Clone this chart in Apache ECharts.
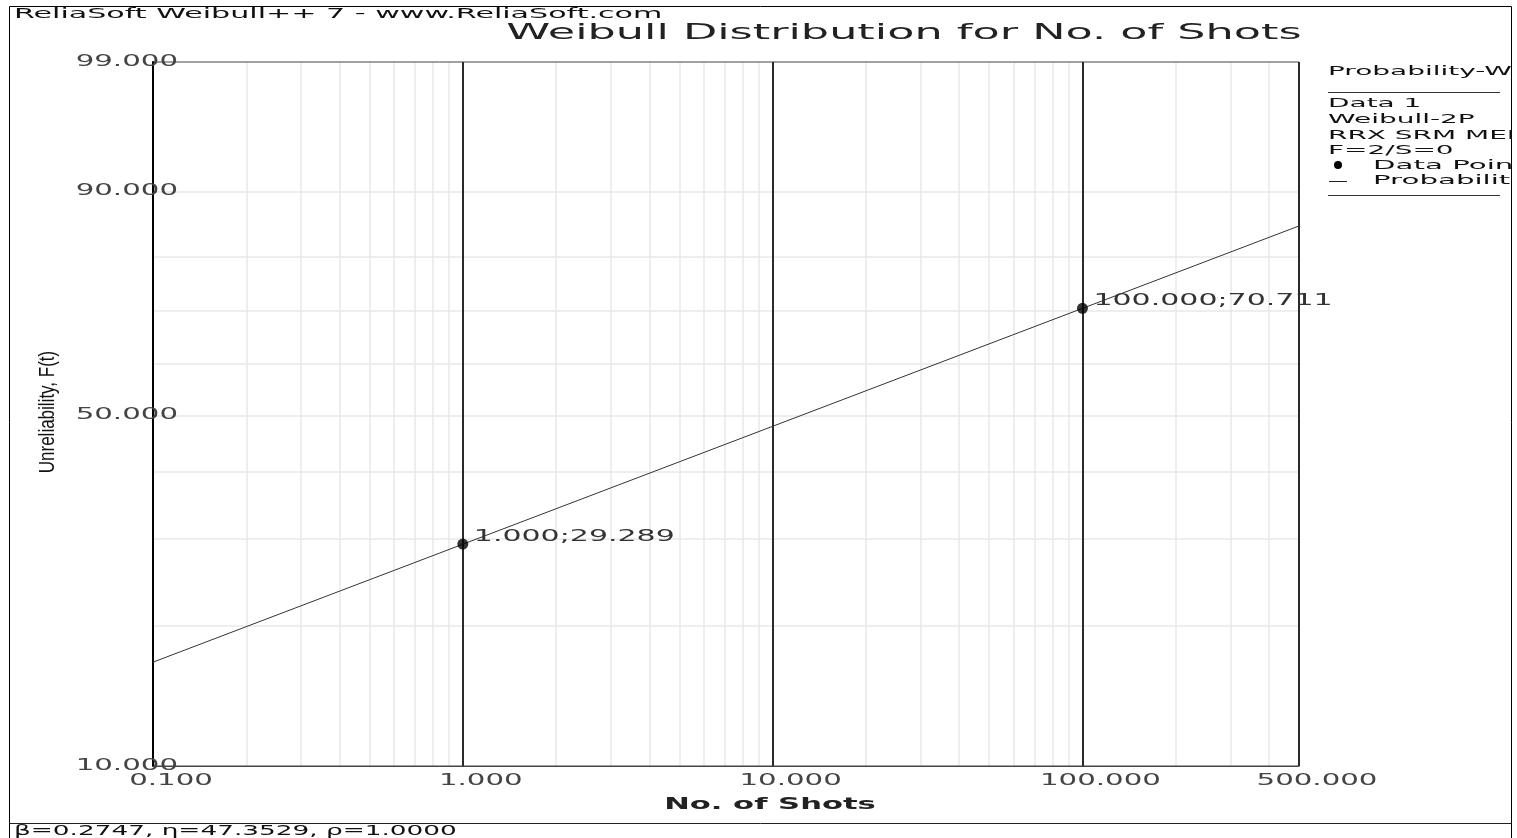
<!DOCTYPE html>
<html>
<head>
<meta charset="utf-8">
<title>Weibull Distribution for No. of Shots</title>
<script src="https://cdn.jsdelivr.net/npm/echarts@6/dist/echarts.min.js"></script>
<style>
  html, body { margin: 0; padding: 0; background: #fff; }
  #chart { width: 1517px; height: 838px; }
</style>
</head>
<body>
<div id="chart"></div>
<script>
// unreliability in percent, drawn on the Weibull probability scale ln(-ln(1-F))
const xTicks = [0.1, 1, 10, 100, 500];
const xMinorGrid = [0.2, 0.3, 0.4, 0.5, 0.6, 0.7, 0.8, 0.9, 2, 3, 4, 5, 6, 7, 8, 9,
  20, 30, 40, 50, 60, 70, 80, 90, 200, 300, 400];
const yTicks = [10, 50, 90, 99];
const yMinorGrid = [20, 30, 40, 50, 60, 70, 80, 90];

const pointShots = [1, 100];
const pointUnrel = [29.289, 70.711];
const lineShots = [0.1, 500];
const lineUnrel = [16.8, 85.2];

const legendInfo = ['Data 1', 'Weibull-2P', 'RRX SRM MED FM', 'F=2/S=0'];
const paramText = 'β=0.2747, η=47.3529, ρ=1.0000';

const FONT = 'DejaVu Sans';
const wb = (f) => Math.log(-Math.log(1 - f / 100));
const fmt3 = (v) => Number(v).toFixed(3);

const chart = echarts.init(document.getElementById('chart'));

// the old screenshot is stretched sideways, so text is drawn with a scaleX
function textLayer(coords, texts, s) {
  return {
    type: 'custom', silent: true, clip: false, z: 6,
    data: coords,
    renderItem: (params, api) => {
      const p = api.coord([api.value(0), api.value(1)]);
      return {
        type: 'text', x: p[0] + s.dx, y: p[1] + s.dy, scaleX: s.sx,
        style: {
          text: texts[params.dataIndex], fill: s.color, fontSize: s.size,
          fontFamily: FONT, align: s.align, verticalAlign: 'middle',
        },
      };
    },
  };
}

function txt(text, x, y, size, sx, extra) {
  return Object.assign({
    type: 'text', x, y, scaleX: sx, z: 10, silent: true,
    style: { text, fontSize: size, fontFamily: FONT, fill: '#111', align: 'left', verticalAlign: 'middle' },
  }, extra || {});
}
function hline(x1, x2, y, color) {
  return { type: 'line', z: 10, silent: true, shape: { x1, y1: y, x2, y2: y }, style: { stroke: color || '#333', lineWidth: 1 } };
}

const yMin = wb(yTicks[0]);
const yMax = wb(yTicks[yTicks.length - 1]);

const legendRows = legendInfo.map((t, i) => txt(t, 1328, 104 + i * 15.6, 13, 2.15));

chart.setOption({
  animation: false,
  grid: { left: 153, right: 218, top: 62, bottom: 72, show: true, z: 3, borderColor: '#444', borderWidth: 1, backgroundColor: 'transparent' },
  xAxis: {
    type: 'log', logBase: 10, min: xTicks[0], max: xTicks[xTicks.length - 1], z: 3,
    axisLine: { onZero: false, lineStyle: { color: '#444', width: 1 } },
    axisTick: { show: false }, axisLabel: { show: false },
    splitLine: { show: true, lineStyle: { color: '#2a2a2a', width: 2 } },
  },
  yAxis: {
    type: 'value', min: yMin, max: yMax, z: 3,
    axisLine: { show: true, onZero: false, lineStyle: { color: '#000', width: 2 } },
    axisTick: { show: false }, axisLabel: { show: false }, splitLine: { show: false },
  },
  series: [
    {
      type: 'line', name: 'grid', data: [], silent: true,
      markLine: {
        silent: true, z: 1, symbol: ['none', 'none'], label: { show: false },
        lineStyle: { color: '#e8e8e8', width: 1.5, type: 'solid' },
        emphasis: { disabled: true },
        data: [
          ...xMinorGrid.map((v) => ({ xAxis: v })),
          ...yMinorGrid.map((f) => ({ yAxis: wb(f) })),
        ],
      },
    },
    {
      type: 'line', name: 'Probability Line', z: 4, silent: true, symbol: 'none',
      data: lineShots.map((x, i) => [x, wb(lineUnrel[i])]),
      lineStyle: { color: '#333', width: 1 },
    },
    {
      type: 'scatter', name: 'Data Points', z: 5, silent: true, symbolSize: 11,
      data: pointShots.map((x, i) => [x, wb(pointUnrel[i])]),
      itemStyle: { color: '#000' },
    },
    textLayer(pointShots.map((x, i) => [x, wb(pointUnrel[i])]),
      pointShots.map((x, i) => `${fmt3(x)};${fmt3(pointUnrel[i])}`),
      { dx: 11, dy: -7, sx: 2.0, size: 15, color: '#333', align: 'left' }),
    textLayer(xTicks.map((x) => [x, yMin]), xTicks.map(fmt3),
      { dx: 18, dy: 15, sx: 1.95, size: 15, color: '#444', align: 'center' }),
    textLayer(yTicks.map((f) => [xTicks[0], wb(f)]), yTicks.map(fmt3),
      { dx: 25, dy: 0, sx: 1.95, size: 15, color: '#444', align: 'right' }),
  ],
  graphic: [
    { type: 'rect', z: 9, silent: true, shape: { x: 9.5, y: 6.5, width: 1502, height: 840 }, style: { fill: 'none', stroke: '#000', lineWidth: 1 } },
    hline(9.5, 1511.5, 823.5, '#222'),
    txt('ReliaSoft Weibull++ 7 - www.ReliaSoft.com', 14, 14.5, 14, 2.15),
    txt('Weibull Distribution for No. of Shots', 904, 34, 21, 2.12, {
      style: { text: 'Weibull Distribution for No. of Shots', fontSize: 21, fontFamily: FONT, fill: '#222', align: 'center', verticalAlign: 'middle' },
    }),
    txt('No. of Shots', 770, 805, 15, 2.04, {
      style: { text: 'No. of Shots', fontSize: 15, fontWeight: 'bold', fontFamily: FONT, fill: '#222', align: 'center', verticalAlign: 'middle' },
    }),
    {
      type: 'text', x: 48, y: 412, rotation: Math.PI / 2, scaleY: 1.35, z: 10, silent: true,
      style: { text: 'Unreliability, F(t)', fontSize: 17, fontFamily: 'Liberation Sans', fill: '#111', align: 'center', verticalAlign: 'middle' },
    },
    // legend box on the right, cut off by the frame
    txt('Probability-Weibull', 1328, 72, 13, 2.15),
    hline(1328, 1500, 92.5),
    ...legendRows,
    { type: 'circle', z: 10, silent: true, shape: { cx: 1338, cy: 165, r: 4 }, style: { fill: '#000' } },
    txt('Data Points', 1373, 166, 13, 2.25),
    hline(1329, 1347, 181.5, '#222'),
    txt('Probability Line', 1373, 181, 13, 2.25),
    hline(1328, 1500, 195.5),
    txt(paramText, 14, 831, 14, 1.88),
    { type: 'rect', z: 20, silent: true, shape: { x: 1512, y: 0, width: 10, height: 838 }, style: { fill: '#fff' } },
  ],
});
</script>
</body>
</html>
